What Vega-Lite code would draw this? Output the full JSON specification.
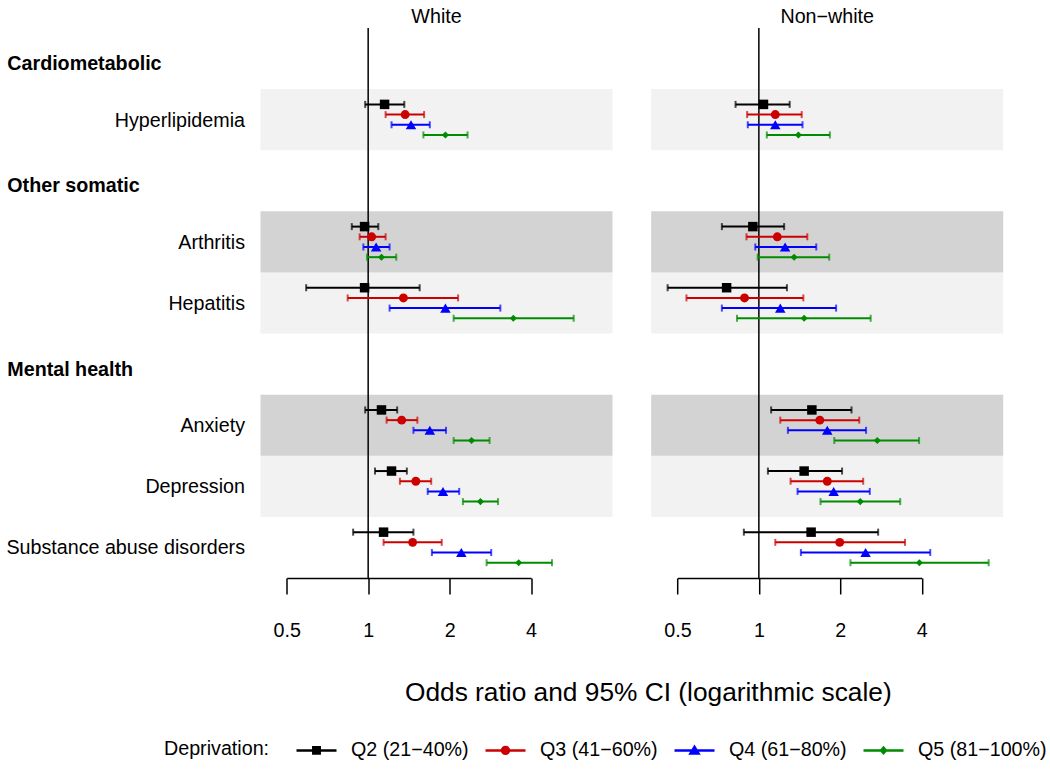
{
  "$schema": "https://vega.github.io/schema/vega-lite/v6.json",
  "padding": {"left": 5.5, "top": 6, "right": 0, "bottom": 0},
  "config": {
    "font": "Liberation Sans",
    "view": {"stroke": null},
    "title": {"font": "Liberation Sans"},
    "axis": {"labelFont": "Liberation Sans", "titleFont": "Liberation Sans"},
    "legend": {"labelFont": "Liberation Sans", "titleFont": "Liberation Sans"}
  },
  "datasets": {
    "bands": [
      {"outcome": "Hyperlipidemia", "shade": "light"},
      {"outcome": "Arthritis", "shade": "dark"},
      {"outcome": "Hepatitis", "shade": "light"},
      {"outcome": "Anxiety", "shade": "dark"},
      {"outcome": "Depression", "shade": "light"}
    ],
    "ref": [{"ref": 1}],
    "est": [
      {"race": "White", "outcome": "Hyperlipidemia", "q": "Q2 (21−40%)", "or": 1.15, "lo": 0.975, "hi": 1.36},
      {"race": "White", "outcome": "Hyperlipidemia", "q": "Q3 (41−60%)", "or": 1.37, "lo": 1.16, "hi": 1.61},
      {"race": "White", "outcome": "Hyperlipidemia", "q": "Q4 (61−80%)", "or": 1.44, "lo": 1.22, "hi": 1.69},
      {"race": "White", "outcome": "Hyperlipidemia", "q": "Q5 (81−100%)", "or": 1.93, "lo": 1.60, "hi": 2.33},
      {"race": "White", "outcome": "Arthritis", "q": "Q2 (21−40%)", "or": 0.97, "lo": 0.87, "hi": 1.09},
      {"race": "White", "outcome": "Arthritis", "q": "Q3 (41−60%)", "or": 1.03, "lo": 0.93, "hi": 1.16},
      {"race": "White", "outcome": "Arthritis", "q": "Q4 (61−80%)", "or": 1.07, "lo": 0.96, "hi": 1.20},
      {"race": "White", "outcome": "Arthritis", "q": "Q5 (81−100%)", "or": 1.12, "lo": 0.99, "hi": 1.27},
      {"race": "White", "outcome": "Hepatitis", "q": "Q2 (21−40%)", "or": 0.97, "lo": 0.59, "hi": 1.55},
      {"race": "White", "outcome": "Hepatitis", "q": "Q3 (41−60%)", "or": 1.35, "lo": 0.84, "hi": 2.15},
      {"race": "White", "outcome": "Hepatitis", "q": "Q4 (61−80%)", "or": 1.93, "lo": 1.20, "hi": 3.08},
      {"race": "White", "outcome": "Hepatitis", "q": "Q5 (81−100%)", "or": 3.44, "lo": 2.07, "hi": 5.75},
      {"race": "White", "outcome": "Anxiety", "q": "Q2 (21−40%)", "or": 1.12, "lo": 0.975, "hi": 1.28},
      {"race": "White", "outcome": "Anxiety", "q": "Q3 (41−60%)", "or": 1.33, "lo": 1.17, "hi": 1.52},
      {"race": "White", "outcome": "Anxiety", "q": "Q4 (61−80%)", "or": 1.69, "lo": 1.47, "hi": 1.94},
      {"race": "White", "outcome": "Anxiety", "q": "Q5 (81−100%)", "or": 2.41, "lo": 2.07, "hi": 2.81},
      {"race": "White", "outcome": "Depression", "q": "Q2 (21−40%)", "or": 1.22, "lo": 1.06, "hi": 1.39},
      {"race": "White", "outcome": "Depression", "q": "Q3 (41−60%)", "or": 1.50, "lo": 1.31, "hi": 1.71},
      {"race": "White", "outcome": "Depression", "q": "Q4 (61−80%)", "or": 1.89, "lo": 1.66, "hi": 2.17},
      {"race": "White", "outcome": "Depression", "q": "Q5 (81−100%)", "or": 2.60, "lo": 2.24, "hi": 3.02},
      {"race": "White", "outcome": "Substance abuse disorders", "q": "Q2 (21−40%)", "or": 1.14, "lo": 0.88, "hi": 1.47},
      {"race": "White", "outcome": "Substance abuse disorders", "q": "Q3 (41−60%)", "or": 1.46, "lo": 1.14, "hi": 1.87},
      {"race": "White", "outcome": "Substance abuse disorders", "q": "Q4 (61−80%)", "or": 2.21, "lo": 1.72, "hi": 2.85},
      {"race": "White", "outcome": "Substance abuse disorders", "q": "Q5 (81−100%)", "or": 3.60, "lo": 2.74, "hi": 4.78},
      {"race": "Non-white", "outcome": "Hyperlipidemia", "q": "Q2 (21−40%)", "or": 1.04, "lo": 0.82, "hi": 1.30},
      {"race": "Non-white", "outcome": "Hyperlipidemia", "q": "Q3 (41−60%)", "or": 1.15, "lo": 0.905, "hi": 1.44},
      {"race": "Non-white", "outcome": "Hyperlipidemia", "q": "Q4 (61−80%)", "or": 1.15, "lo": 0.91, "hi": 1.45},
      {"race": "Non-white", "outcome": "Hyperlipidemia", "q": "Q5 (81−100%)", "or": 1.40, "lo": 1.07, "hi": 1.83},
      {"race": "Non-white", "outcome": "Arthritis", "q": "Q2 (21−40%)", "or": 0.95, "lo": 0.73, "hi": 1.24},
      {"race": "Non-white", "outcome": "Arthritis", "q": "Q3 (41−60%)", "or": 1.17, "lo": 0.90, "hi": 1.51},
      {"race": "Non-white", "outcome": "Arthritis", "q": "Q4 (61−80%)", "or": 1.25, "lo": 0.97, "hi": 1.63},
      {"race": "Non-white", "outcome": "Arthritis", "q": "Q5 (81−100%)", "or": 1.35, "lo": 0.99, "hi": 1.82},
      {"race": "Non-white", "outcome": "Hepatitis", "q": "Q2 (21−40%)", "or": 0.76, "lo": 0.46, "hi": 1.27},
      {"race": "Non-white", "outcome": "Hepatitis", "q": "Q3 (41−60%)", "or": 0.885, "lo": 0.54, "hi": 1.46},
      {"race": "Non-white", "outcome": "Hepatitis", "q": "Q4 (61−80%)", "or": 1.20, "lo": 0.73, "hi": 1.93},
      {"race": "Non-white", "outcome": "Hepatitis", "q": "Q5 (81−100%)", "or": 1.47, "lo": 0.83, "hi": 2.59},
      {"race": "Non-white", "outcome": "Anxiety", "q": "Q2 (21−40%)", "or": 1.57, "lo": 1.11, "hi": 2.20},
      {"race": "Non-white", "outcome": "Anxiety", "q": "Q3 (41−60%)", "or": 1.68, "lo": 1.20, "hi": 2.35},
      {"race": "Non-white", "outcome": "Anxiety", "q": "Q4 (61−80%)", "or": 1.79, "lo": 1.28, "hi": 2.49},
      {"race": "Non-white", "outcome": "Anxiety", "q": "Q5 (81−100%)", "or": 2.74, "lo": 1.90, "hi": 3.91},
      {"race": "Non-white", "outcome": "Depression", "q": "Q2 (21−40%)", "or": 1.47, "lo": 1.08, "hi": 2.03},
      {"race": "Non-white", "outcome": "Depression", "q": "Q3 (41−60%)", "or": 1.79, "lo": 1.31, "hi": 2.43},
      {"race": "Non-white", "outcome": "Depression", "q": "Q4 (61−80%)", "or": 1.89, "lo": 1.39, "hi": 2.57},
      {"race": "Non-white", "outcome": "Depression", "q": "Q5 (81−100%)", "or": 2.37, "lo": 1.69, "hi": 3.33},
      {"race": "Non-white", "outcome": "Substance abuse disorders", "q": "Q2 (21−40%)", "or": 1.56, "lo": 0.88, "hi": 2.76},
      {"race": "Non-white", "outcome": "Substance abuse disorders", "q": "Q3 (41−60%)", "or": 1.99, "lo": 1.15, "hi": 3.47},
      {"race": "Non-white", "outcome": "Substance abuse disorders", "q": "Q4 (61−80%)", "or": 2.48, "lo": 1.43, "hi": 4.30},
      {"race": "Non-white", "outcome": "Substance abuse disorders", "q": "Q5 (81−100%)", "or": 3.92, "lo": 2.18, "hi": 7.07}
    ]
  },
  "bounds": "flush",
  "spacing": 38.7,
  "resolve": {"scale": {"x": "independent", "y": "independent"}},
  "hconcat": [
    {
      "width": 352, "height": 550,
      "title": {"text": "White", "fontSize": 19.7, "fontWeight": "normal", "color": "black", "baseline": "alphabetic", "offset": -15},
      "layer": [
        {
          "data": {"name": "bands"},
          "transform": [{"filter": "datum.shade === 'light'"}],
          "mark": {"type": "rect", "color": "#F2F2F2"},
          "encoding": {
            "y": {"field": "outcome", "type": "nominal",
              "scale": {"domain": ["Cardiometabolic", "Hyperlipidemia", "Other somatic", "Arthritis", "Hepatitis", "Mental health", "Anxiety", "Depression", "Substance abuse disorders"], "paddingInner": 0, "paddingOuter": 0},
              "axis": {
                "title": null, "domain": false, "ticks": false, "tickSize": 0, "grid": false,
                "labelFontSize": 19.7, "labelColor": "black", "labelLimit": 400,
                "labelAlign": {"condition": {"test": "indexof(['Cardiometabolic','Other somatic','Mental health'], datum.value) >= 0", "value": "left"}, "value": "right"},
                "labelFontWeight": {"condition": {"test": "indexof(['Cardiometabolic','Other somatic','Mental health'], datum.value) >= 0", "value": "bold"}, "value": "normal"},
                "labelPadding": {"condition": {"test": "indexof(['Cardiometabolic','Other somatic','Mental health'], datum.value) >= 0", "value": 253.7}, "value": 16},
                "labelOffset": {"condition": {"test": "indexof(['Cardiometabolic','Other somatic','Mental health'], datum.value) >= 0", "value": 5.5}, "value": 1}
              }}
          }
        },
        {
          "data": {"name": "bands"},
          "transform": [{"filter": "datum.shade === 'dark'"}],
          "mark": {"type": "rect", "color": "#D3D3D3"},
          "encoding": {"y": {"field": "outcome", "type": "nominal"}}
        },
        {
          "data": {"name": "ref"},
          "mark": {"type": "rule", "color": "black", "strokeWidth": 1.5},
          "encoding": {"x": {"field": "ref", "type": "quantitative", "scale": {"type": "log", "base": 2, "domain": [0.4, 8], "nice": false, "zero": false}}}
        },
        {
          "data": {"name": "est"},
          "transform": [{"filter": "datum.race === 'White'"}],
          "layer": [
            {
              "mark": {"type": "rule", "strokeWidth": 2},
              "encoding": {
                "x": {"field": "lo", "type": "quantitative", "scale": {"type": "log", "base": 2, "domain": [0.4, 8], "nice": false, "zero": false},
                  "axis": {
                    "values": [0.5, 1, 2, 4], "format": "~g", "grid": false,
                    "domainColor": "black", "domainWidth": 1.5, "domainDash": [0, 26.22, 244.35, 1000],
                    "tickColor": "black", "tickWidth": 1.5, "tickSize": 16,
                    "labelFontSize": 19.7, "labelColor": "black", "labelPadding": 26, "labelFlush": false,
                    "title": "Odds ratio and 95% CI (logarithmic scale)", "titleFontSize": 26.3, "titleFontWeight": "normal", "titleColor": "black",
                    "titleX": 387.3, "titleY": 114.5, "titleAlign": "center", "titleBaseline": "middle"
                  }},
                "x2": {"field": "hi"},
                "y": {"field": "outcome", "type": "nominal"},
                "yOffset": {"field": "q", "type": "nominal", "scale": {"domain": ["Q2 (21−40%)", "Q3 (41−60%)", "Q4 (61−80%)", "Q5 (81−100%)"], "paddingInner": 0, "paddingOuter": 1.05}},
                "color": {"field": "q", "type": "nominal", "scale": {"range": ["#000000", "#CD0000", "#0000FF", "#008B00"]}, "legend": null}
              }
            },
            {
              "mark": {"type": "tick", "size": 7, "thickness": 2},
              "encoding": {
                "x": {"field": "lo", "type": "quantitative"},
                "y": {"field": "outcome", "type": "nominal"},
                "yOffset": {"field": "q", "type": "nominal"},
                "color": {"field": "q", "type": "nominal", "legend": null}
              }
            },
            {
              "mark": {"type": "tick", "size": 7, "thickness": 2},
              "encoding": {
                "x": {"field": "hi", "type": "quantitative"},
                "y": {"field": "outcome", "type": "nominal"},
                "yOffset": {"field": "q", "type": "nominal"},
                "color": {"field": "q", "type": "nominal", "legend": null}
              }
            },
            {
              "transform": [{"filter": "datum.q === 'Q2 (21−40%)'"}],
              "mark": {"type": "point", "filled": true, "opacity": 1, "shape": "square", "size": 90},
              "encoding": {
                "x": {"field": "or", "type": "quantitative"},
                "y": {"field": "outcome", "type": "nominal"},
                "yOffset": {"field": "q", "type": "nominal"},
                "color": {"field": "q", "type": "nominal", "legend": null}
              }
            },
            {
              "transform": [{"filter": "datum.q === 'Q3 (41−60%)'"}],
              "mark": {"type": "point", "filled": true, "opacity": 1, "shape": "circle", "size": 80},
              "encoding": {
                "x": {"field": "or", "type": "quantitative"},
                "y": {"field": "outcome", "type": "nominal"},
                "yOffset": {"field": "q", "type": "nominal"},
                "color": {"field": "q", "type": "nominal", "legend": null}
              }
            },
            {
              "transform": [{"filter": "datum.q === 'Q4 (61−80%)'"}],
              "mark": {"type": "point", "filled": true, "opacity": 1, "shape": "triangle-up", "size": 110},
              "encoding": {
                "x": {"field": "or", "type": "quantitative"},
                "y": {"field": "outcome", "type": "nominal"},
                "yOffset": {"field": "q", "type": "nominal"},
                "color": {"field": "q", "type": "nominal", "legend": null}
              }
            },
            {
              "transform": [{"filter": "datum.q === 'Q5 (81−100%)'"}],
              "mark": {"type": "point", "filled": true, "opacity": 1, "shape": "diamond", "size": 50},
              "encoding": {
                "x": {"field": "or", "type": "quantitative"},
                "y": {"field": "outcome", "type": "nominal"},
                "yOffset": {"field": "q", "type": "nominal"},
                "color": {"field": "q", "type": "nominal", "legend": null}
              }
            }
          ]
        },
        {
          "data": {"name": "est"},
          "transform": [{"filter": "false"}],
          "mark": {"type": "point", "filled": true, "opacity": 1, "strokeWidth": 2.5},
          "encoding": {
            "shape": {"field": "q", "type": "nominal",
              "scale": {"domain": ["Q2 (21−40%)", "Q3 (41−60%)", "Q4 (61−80%)", "Q5 (81−100%)"],
                "range": [
                  "M-1,0L1,0M-0.16,-0.16L0.16,-0.16L0.16,0.16L-0.16,0.16Z",
                  "M-1,0L1,0M0.17,0A0.17,0.17,0,1,1,-0.17,0A0.17,0.17,0,1,1,0.17,0Z",
                  "M-1,0L1,0M0,-0.18L0.2,0.15L-0.2,0.15Z",
                  "M-1,0L1,0M0,-0.14L0.12,0L0,0.14L-0.12,0Z"
                ]},
              "legend": {
                "orient": "none", "legendX": -96.5, "legendY": 700.5, "direction": "horizontal",
                "title": "Deprivation:", "titleOrient": "left", "titleAnchor": "middle", "titleBaseline": "line-top", "titleLineHeight": 8, "titleFontSize": 19.7, "titleFontWeight": "normal", "titleColor": "black", "titlePadding": 25,
                "labelFontSize": 19.7, "labelColor": "black", "labelOffset": 13, "columnPadding": 11, "labelLimit": 300,
                "symbolSize": 1600, "symbolStrokeWidth": 2.5
              }},
            "fill": {"field": "q", "type": "nominal", "scale": {"domain": ["Q2 (21−40%)", "Q3 (41−60%)", "Q4 (61−80%)", "Q5 (81−100%)"], "range": ["#000000", "#CD0000", "#0000FF", "#008B00"]}},
            "stroke": {"field": "q", "type": "nominal", "scale": {"domain": ["Q2 (21−40%)", "Q3 (41−60%)", "Q4 (61−80%)", "Q5 (81−100%)"], "range": ["#000000", "#CD0000", "#0000FF", "#008B00"]}}
          }
        }
      ]
    },
    {
      "width": 352, "height": 550,
      "title": {"text": "Non−white", "fontSize": 19.7, "fontWeight": "normal", "color": "black", "baseline": "alphabetic", "offset": -15},
      "layer": [
        {
          "data": {"name": "bands"},
          "transform": [{"filter": "datum.shade === 'light'"}],
          "mark": {"type": "rect", "color": "#F2F2F2"},
          "encoding": {
            "y": {"field": "outcome", "type": "nominal", "axis": null,
              "scale": {"domain": ["Cardiometabolic", "Hyperlipidemia", "Other somatic", "Arthritis", "Hepatitis", "Mental health", "Anxiety", "Depression", "Substance abuse disorders"], "paddingInner": 0, "paddingOuter": 0}}
          }
        },
        {
          "data": {"name": "bands"},
          "transform": [{"filter": "datum.shade === 'dark'"}],
          "mark": {"type": "rect", "color": "#D3D3D3"},
          "encoding": {"y": {"field": "outcome", "type": "nominal", "axis": null}}
        },
        {
          "data": {"name": "ref"},
          "mark": {"type": "rule", "color": "black", "strokeWidth": 1.5},
          "encoding": {"x": {"field": "ref", "type": "quantitative", "scale": {"type": "log", "base": 2, "domain": [0.4, 8], "nice": false, "zero": false}}}
        },
        {
          "data": {"name": "est"},
          "transform": [{"filter": "datum.race === 'Non-white'"}],
          "layer": [
            {
              "mark": {"type": "rule", "strokeWidth": 2},
              "encoding": {
                "x": {"field": "lo", "type": "quantitative", "scale": {"type": "log", "base": 2, "domain": [0.4, 8], "nice": false, "zero": false},
                  "axis": {
                    "values": [0.5, 1, 2, 4], "format": "~g", "grid": false,
                    "domainColor": "black", "domainWidth": 1.5, "domainDash": [0, 26.22, 244.35, 1000],
                    "tickColor": "black", "tickWidth": 1.5, "tickSize": 16,
                    "labelFontSize": 19.7, "labelColor": "black", "labelPadding": 26, "labelFlush": false,
                    "title": null
                  }},
                "x2": {"field": "hi"},
                "y": {"field": "outcome", "type": "nominal", "axis": null},
                "yOffset": {"field": "q", "type": "nominal", "scale": {"domain": ["Q2 (21−40%)", "Q3 (41−60%)", "Q4 (61−80%)", "Q5 (81−100%)"], "paddingInner": 0, "paddingOuter": 1.05}},
                "color": {"field": "q", "type": "nominal", "legend": null}
              }
            },
            {
              "mark": {"type": "tick", "size": 7, "thickness": 2},
              "encoding": {
                "x": {"field": "lo", "type": "quantitative"},
                "y": {"field": "outcome", "type": "nominal", "axis": null},
                "yOffset": {"field": "q", "type": "nominal"},
                "color": {"field": "q", "type": "nominal", "legend": null}
              }
            },
            {
              "mark": {"type": "tick", "size": 7, "thickness": 2},
              "encoding": {
                "x": {"field": "hi", "type": "quantitative"},
                "y": {"field": "outcome", "type": "nominal", "axis": null},
                "yOffset": {"field": "q", "type": "nominal"},
                "color": {"field": "q", "type": "nominal", "legend": null}
              }
            },
            {
              "transform": [{"filter": "datum.q === 'Q2 (21−40%)'"}],
              "mark": {"type": "point", "filled": true, "opacity": 1, "shape": "square", "size": 90},
              "encoding": {
                "x": {"field": "or", "type": "quantitative"},
                "y": {"field": "outcome", "type": "nominal", "axis": null},
                "yOffset": {"field": "q", "type": "nominal"},
                "color": {"field": "q", "type": "nominal", "legend": null}
              }
            },
            {
              "transform": [{"filter": "datum.q === 'Q3 (41−60%)'"}],
              "mark": {"type": "point", "filled": true, "opacity": 1, "shape": "circle", "size": 80},
              "encoding": {
                "x": {"field": "or", "type": "quantitative"},
                "y": {"field": "outcome", "type": "nominal", "axis": null},
                "yOffset": {"field": "q", "type": "nominal"},
                "color": {"field": "q", "type": "nominal", "legend": null}
              }
            },
            {
              "transform": [{"filter": "datum.q === 'Q4 (61−80%)'"}],
              "mark": {"type": "point", "filled": true, "opacity": 1, "shape": "triangle-up", "size": 110},
              "encoding": {
                "x": {"field": "or", "type": "quantitative"},
                "y": {"field": "outcome", "type": "nominal", "axis": null},
                "yOffset": {"field": "q", "type": "nominal"},
                "color": {"field": "q", "type": "nominal", "legend": null}
              }
            },
            {
              "transform": [{"filter": "datum.q === 'Q5 (81−100%)'"}],
              "mark": {"type": "point", "filled": true, "opacity": 1, "shape": "diamond", "size": 50},
              "encoding": {
                "x": {"field": "or", "type": "quantitative"},
                "y": {"field": "outcome", "type": "nominal", "axis": null},
                "yOffset": {"field": "q", "type": "nominal"},
                "color": {"field": "q", "type": "nominal", "legend": null}
              }
            }
          ]
        }
      ]
    }
  ]
}
